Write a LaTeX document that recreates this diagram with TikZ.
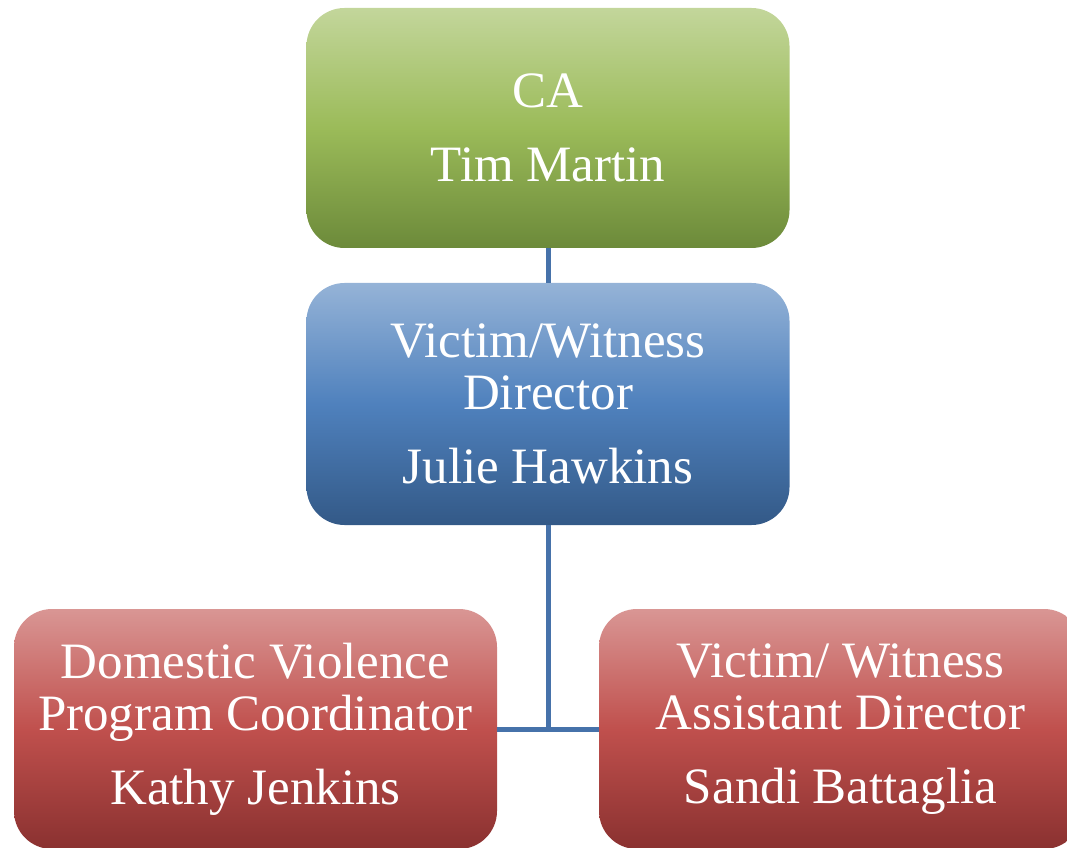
\documentclass[tikz,border=0pt]{standalone}
\usepackage{fontspec}
\setmainfont{Liberation Serif}
\definecolor{gtop}{HTML}{C3D69B}
\definecolor{gmid}{HTML}{9BBB59}
\definecolor{gbot}{HTML}{6C8A3A}
\definecolor{btop}{HTML}{95B3D7}
\definecolor{bmid}{HTML}{4F81BD}
\definecolor{bbot}{HTML}{335987}
\definecolor{rtop}{HTML}{D99694}
\definecolor{rmid}{HTML}{C0504D}
\definecolor{rbot}{HTML}{8A3130}
\definecolor{linkblue}{HTML}{4672AA}
\tikzset{
  orgbox/.style={rectangle, rounded corners=38pt, minimum width=483pt,
    minimum height=240pt, outer sep=0pt, inner sep=0pt, align=center,
    text=white, font=\fontsize{51}{52}\selectfont},
  greenbox/.style={orgbox, top color=gtop, bottom color=gbot, middle color=gmid},
  bluebox/.style={orgbox, minimum height=242pt, top color=btop, bottom color=bbot, middle color=bmid},
  redbox/.style={orgbox, top color=rtop, bottom color=rbot, middle color=rmid},
  link/.style={draw=linkblue, line width=5pt}
}
\begin{document}
\begin{tikzpicture}[x=1pt, y=1pt]
  \useasboundingbox (0,0) rectangle (1067,847);
  \clip (0,0) rectangle (1067,847);
  % chart boxes
  \node[greenbox] (ca) at (548,719) {CA\\[22pt]Tim Martin};
  \node[bluebox] (vw) at (548,443) {Victim/Witness\\Director\\[22pt]Julie Hawkins};
  \node[redbox] (dv) at (255.5,118) {Domestic Violence\\Program Coordinator\\[22pt]Kathy Jenkins};
  \node[redbox] (ad) at (840.5,118) {Victim/ Witness\\Assistant Director\\[22pt]Sandi Battaglia};
  % reporting lines
  \draw[link] (ca.south) -- (vw.north);
  \draw[link] (vw.south) -- (vw.south |- dv.east);
  \draw[link] (dv.east) -- (ad.west);
\end{tikzpicture}
\end{document}
